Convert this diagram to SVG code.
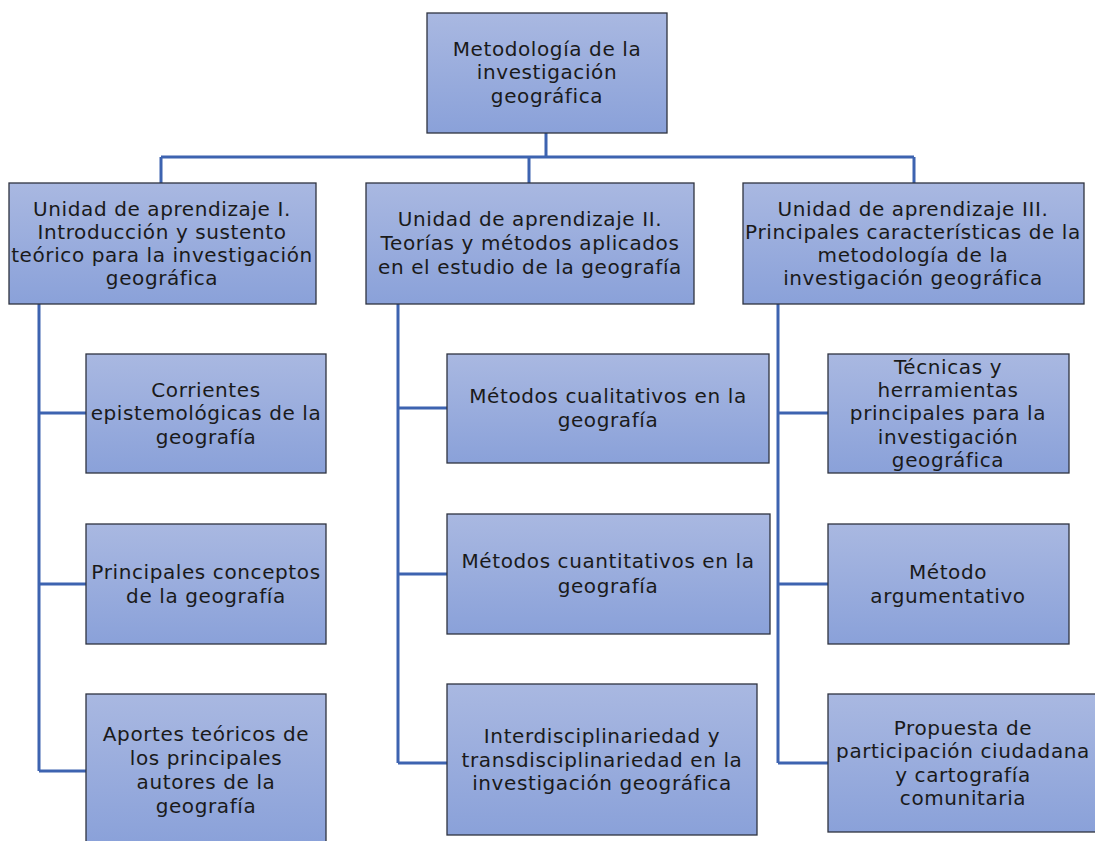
<svg xmlns="http://www.w3.org/2000/svg" width="1095" height="841" viewBox="0 0 1095 841">
<defs>
<linearGradient id="g" x1="0" y1="0" x2="0" y2="1">
<stop offset="0" stop-color="#a9b8e1"/>
<stop offset="1" stop-color="#8aa1d9"/>
</linearGradient>
<style>
.box{fill:url(#g);stroke:#2e3340;stroke-width:1.3}
.t{font-family:"DejaVu Sans",sans-serif;font-size:20px;letter-spacing:0.6px;fill:#1a1a1a;text-anchor:middle}
.c{fill:none;stroke:#3d63b0;stroke-width:3}
</style>
</defs>
<rect width="1095" height="841" fill="#ffffff"/>
<g id="connectors">
<path class="c" d="M546 133V157M161 157H914M161 157V183M529 157V183M914 157V183"/>
<path class="c" d="M39 304V771M39 413H86M39 584H86M39 771H86"/>
<path class="c" d="M398 304V763M398 408H447M398 574H447M398 763H447"/>
<path class="c" d="M778 304V763M778 413H828M778 584H828M778 763H828"/>
</g>
<g id="root"><rect class="box" x="427" y="13" width="240" height="120"/>
<text class="t" x="547"><tspan x="547" y="56">Metodología de la</tspan><tspan x="547" y="79">investigación</tspan><tspan x="547" y="103">geográfica</tspan></text></g>
<g id="unit1"><rect class="box" x="9" y="183" width="307" height="121"/>
<text class="t"><tspan x="162" y="216">Unidad de aprendizaje I.</tspan><tspan x="162" y="239">Introducción y sustento</tspan><tspan x="162" y="262">teórico para la investigación</tspan><tspan x="162" y="285">geográfica</tspan></text></g>
<g id="unit2"><rect class="box" x="366" y="183" width="328" height="121"/>
<text class="t"><tspan x="530" y="226">Unidad de aprendizaje II.</tspan><tspan x="530" y="250">Teorías y métodos aplicados</tspan><tspan x="530" y="274">en el estudio de la geografía</tspan></text></g>
<g id="unit3"><rect class="box" x="743" y="183" width="341" height="121"/>
<text class="t"><tspan x="913" y="216">Unidad de aprendizaje III.</tspan><tspan x="913" y="239">Principales características de la</tspan><tspan x="913" y="262">metodología de la</tspan><tspan x="913" y="285">investigación geográfica</tspan></text></g>
<g id="corrientes"><rect class="box" x="86" y="354" width="240" height="119"/>
<text class="t"><tspan x="206" y="397">Corrientes</tspan><tspan x="206" y="420">epistemológicas de la</tspan><tspan x="206" y="444">geografía</tspan></text></g>
<g id="conceptos"><rect class="box" x="86" y="524" width="240" height="120"/>
<text class="t"><tspan x="206" y="579">Principales conceptos</tspan><tspan x="206" y="603">de la geografía</tspan></text></g>
<g id="aportes"><rect class="box" x="86" y="694" width="240" height="150"/>
<text class="t"><tspan x="206" y="741">Aportes teóricos de</tspan><tspan x="206" y="765">los principales</tspan><tspan x="206" y="789">autores de la</tspan><tspan x="206" y="813">geografía</tspan></text></g>
<g id="cualitativos"><rect class="box" x="447" y="354" width="322" height="109"/>
<text class="t"><tspan x="608" y="403">Métodos cualitativos en la</tspan><tspan x="608" y="427">geografía</tspan></text></g>
<g id="cuantitativos"><rect class="box" x="447" y="514" width="323" height="120"/>
<text class="t"><tspan x="608" y="568">Métodos cuantitativos en la</tspan><tspan x="608" y="593">geografía</tspan></text></g>
<g id="interdisciplinariedad"><rect class="box" x="447" y="684" width="310" height="151"/>
<text class="t"><tspan x="602" y="743">Interdisciplinariedad y</tspan><tspan x="602" y="767">transdisciplinariedad en la</tspan><tspan x="602" y="790">investigación geográfica</tspan></text></g>
<g id="tecnicas"><rect class="box" x="828" y="354" width="241" height="119"/>
<text class="t"><tspan x="948" y="374">Técnicas y</tspan><tspan x="948" y="397">herramientas</tspan><tspan x="948" y="420">principales para la</tspan><tspan x="948" y="444">investigación</tspan><tspan x="948" y="467">geográfica</tspan></text></g>
<g id="argumentativo"><rect class="box" x="828" y="524" width="241" height="120"/>
<text class="t"><tspan x="948" y="579">Método</tspan><tspan x="948" y="603">argumentativo</tspan></text></g>
<g id="propuesta"><rect class="box" x="828" y="694" width="280" height="138"/>
<text class="t"><tspan x="963" y="735">Propuesta de</tspan><tspan x="963" y="758">participación ciudadana</tspan><tspan x="963" y="782">y cartografía</tspan><tspan x="963" y="805">comunitaria</tspan></text></g>
</svg>
